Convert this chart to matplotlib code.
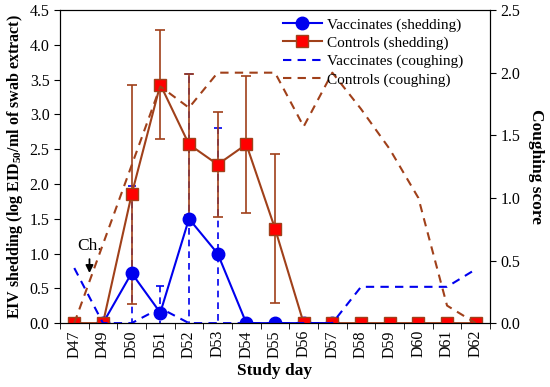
import matplotlib
matplotlib.use("Agg")
import matplotlib.pyplot as plt
import numpy as np

days = ["D47", "D49", "D50", "D51", "D52", "D53", "D54", "D55",
        "D56", "D57", "D58", "D59", "D60", "D61", "D62"]

# shedding (left axis), nan = not plotted
vacc_shed = [np.nan, 0, 0.72, 0.15, 1.50, 1.00, 0, 0,
             0, 0, np.nan, np.nan, np.nan, np.nan, np.nan]
vacc_err = [0, 0, 1.25, 0.38, 2.08, 1.80, 0, 0,
            0, 0, 0, 0, 0, 0, 0]
ctrl_shed = [0, 0, 1.85, 3.43, 2.57, 2.28, 2.57, 1.36,
             0, 0, 0, 0, 0, 0, 0]
ctrl_err = [0, 0, 1.57, 0.79, 1.01, 0.75, 0.98, 1.07,
            0, 0, 0, 0, 0, 0, 0]

# coughing score (right axis)
vacc_cough = [0.44, 0, 0, 0.12, 0, 0, 0, 0,
              0, 0, 0.29, 0.29, 0.29, 0.29, 0.43]
ctrl_cough = [0, 0.63, 1.26, 1.89, 1.72, 2.0, 2.0, 2.0,
              1.57, 2.0, 1.71, 1.39, 1.0, 0.14, 0]

plt.rcParams['font.family'] = ['Liberation Serif', 'DejaVu Serif']
plt.rcParams['font.size'] = 11.5
plt.rcParams['mathtext.fontset'] = 'custom'
plt.rcParams['mathtext.rm'] = 'Liberation Serif'
plt.rcParams['mathtext.bf'] = 'Liberation Serif:bold'

blue = '#0000ee'
brown = '#a0401a'
red = '#ff0000'

fig = plt.figure(figsize=(5.5, 3.87), dpi=100)
ax = fig.add_axes([0.109, 0.165, 0.782, 0.809])
ax2 = ax.twinx()

x = np.arange(len(days))

# vaccinates error bars (dashed), under the controls ones
eb2 = ax.errorbar(x, vacc_shed, yerr=vacc_err, fmt='none', ecolor=blue,
                  elinewidth=1.2, capsize=3, capthick=1.2, zorder=1.5)
eb2[2][0].set_linestyle((0, (4, 3)))

# controls error bars
eb = ax.errorbar(x, ctrl_shed, yerr=ctrl_err, fmt='none', ecolor=brown,
                 elinewidth=1.2, capsize=3.5, capthick=1.2, zorder=2)
ax.plot(x, ctrl_shed, '-', color=brown, lw=1.5, zorder=3)

l1, = ax.plot(x, vacc_shed, '-o', color=blue, lw=1.5, ms=9, zorder=4)
ax.plot(x, ctrl_shed, 's', mfc=red, mec=brown, mew=1, ms=9, zorder=5)
h2 = matplotlib.lines.Line2D([], [], color=brown, marker='s', mfc=red,
                             mec=brown, ms=9, lw=1.5)

l3, = ax2.plot(x, vacc_cough, '--', color=blue, lw=1.5, dashes=(4, 3))
l4, = ax2.plot(x, ctrl_cough, '--', color=brown, lw=1.5, dashes=(4, 3))

ax.set_xlim(-0.5, 14.5)
ax.set_ylim(0, 4.5)
ax2.set_ylim(0, 2.5)

ax.set_xticks(x)
ax.set_xticklabels(days, rotation=90)
ax.set_xticks(np.arange(-0.5, 15, 1), minor=True)
ax.tick_params(axis='x', which='major', length=0, pad=5)
ax.tick_params(axis='x', which='minor', length=4, direction='out')
ax.set_yticks(np.arange(0, 4.6, 0.5))
ax.set_yticklabels(['%.1f' % v for v in np.arange(0, 4.6, 0.5)])
ax2.set_yticks(np.arange(0, 2.6, 0.5))
ax2.set_yticklabels(['%.1f' % v for v in np.arange(0, 2.6, 0.5)])
ax.tick_params(axis='y', length=4)
ax2.tick_params(axis='y', length=4)

ax.set_xlabel('Study day', fontweight='bold', fontsize=12.5)
ax.set_ylabel(r'EIV shedding (log EID$_{\mathbf{50}}$/ml of swab extract)',
              fontweight='bold', fontsize=11.5, labelpad=3)
ax2.set_ylabel('Coughing score', fontweight='bold', fontsize=12.5,
               rotation=270, labelpad=17)

# challenge marker
ax.annotate('Ch.', xy=(0.53, 0.72), xytext=(0.53, 1.0), ha='center',
            va='bottom', fontsize=12.5,
            arrowprops=dict(arrowstyle='-|>', color='black', lw=1.3,
                            mutation_scale=11, shrinkA=2, shrinkB=0))

ax2.legend([l1, h2, l3, l4],
           ['Vaccinates (shedding)', 'Controls (shedding)',
            'Vaccinates (coughing)', 'Controls (coughing)'],
           loc='upper left', bbox_to_anchor=(0.5, 1.0), frameon=False,
           fontsize=11, handlelength=2.6, handletextpad=0.3,
           labelspacing=0.3, borderaxespad=0.1)

fig.savefig('out.png', dpi=100)
